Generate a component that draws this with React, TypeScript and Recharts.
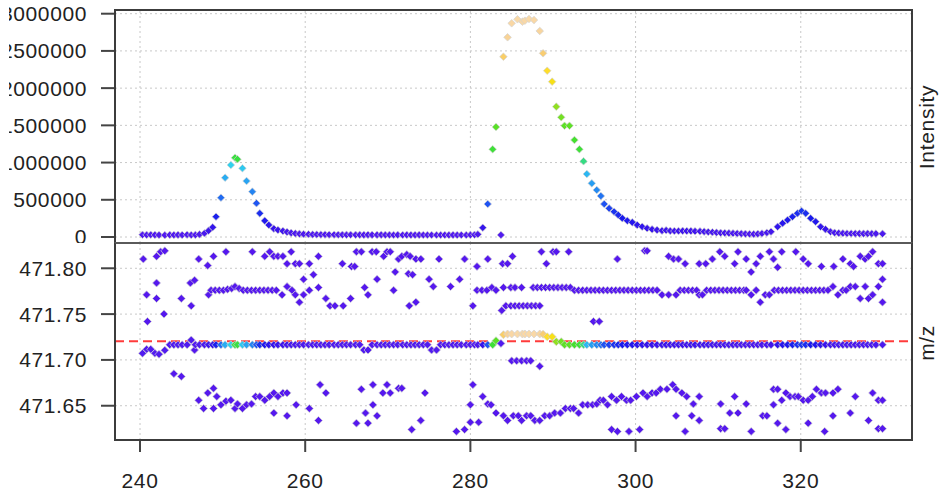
import { ScatterChart, Scatter, XAxis, YAxis, ReferenceLine } from 'recharts'

// main trace: [retention time, intensity, m/z of the main peak in that scan]
const mainTrace: [number, number, number][] = [
  [240.3, 30000, 471.7072], [240.8, 28000, 471.7116], [241.3, 30000, 471.7116], [241.8, 28000, 471.7072],
  [242.3, 27000, 471.7061], [243.0, 25000, 471.7105], [243.6, 28000, 471.7165], [244.1, 27000, 471.7165],
  [244.6, 28000, 471.7165], [245.1, 27000, 471.7165], [245.7, 30000, 471.7165], [246.2, 27000, 471.7217],
  [246.7, 28000, 471.7165], [247.2, 35000, 471.7165], [247.8, 50000, 471.7165], [248.3, 85000, 471.7165],
  [248.8, 130000, 471.7165], [249.2, 273000, 471.7165], [249.8, 528000, 471.7165], [250.3, 797000, 471.7165],
  [251.0, 967000, 471.7165], [251.5, 1065000, 471.7165], [251.8, 1045000, 471.7165], [252.4, 923000, 471.7165],
  [252.9, 752000, 471.7165], [253.6, 609000, 471.7165], [254.1, 453000, 471.7165], [254.5, 318000, 471.7165],
  [255.1, 219000, 471.7165], [255.6, 161000, 471.7165], [256.2, 112000, 471.7165], [256.7, 94000, 471.7165],
  [257.3, 80000, 471.7165], [257.8, 67000, 471.7165], [258.3, 55000, 471.7165], [258.8, 48000, 471.7165],
  [259.3, 42000, 471.7165], [259.8, 38000, 471.7165], [260.4, 36000, 471.7165], [260.9, 34000, 471.7165],
  [261.4, 33000, 471.7165], [261.9, 32000, 471.7165], [262.4, 32000, 471.7165], [262.9, 31000, 471.7165],
  [263.5, 31000, 471.7165], [264.0, 30000, 471.7165], [264.5, 30000, 471.7165], [265.0, 29000, 471.7165],
  [265.5, 30000, 471.7165], [266.1, 29000, 471.7165], [266.6, 29000, 471.7165], [267.1, 28000, 471.7108],
  [267.6, 29000, 471.7108], [268.1, 28000, 471.7165], [268.7, 28000, 471.7165], [269.2, 29000, 471.7165],
  [269.7, 28000, 471.7165], [270.2, 28000, 471.7165], [270.7, 27000, 471.7165], [271.2, 28000, 471.7165],
  [271.8, 27000, 471.7165], [272.3, 28000, 471.7165], [272.8, 27000, 471.7165], [273.3, 27000, 471.7165],
  [273.8, 28000, 471.7165], [274.3, 27000, 471.7165], [274.8, 27000, 471.7165], [275.3, 27000, 471.7108],
  [275.9, 26000, 471.7108], [276.4, 27000, 471.7165], [276.9, 27000, 471.7165], [277.4, 26000, 471.7165],
  [277.9, 27000, 471.7165], [278.4, 26000, 471.7165], [278.9, 27000, 471.7165], [279.5, 26000, 471.7165],
  [280.0, 28000, 471.7165], [280.5, 30000, 471.7165], [280.9, 36000, 471.7165], [281.5, 125000, 471.7165],
  [282.1, 443000, 471.7165], [282.7, 1178000, 471.7165], [283.1, 1478000, 471.721], [283.7, 27000, 471.718],
  [284.0, 2422000, 471.7275], [284.5, 2683000, 471.7283], [285.0, 2871000, 471.7283], [285.7, 2925000, 471.7283],
  [286.3, 2893000, 471.7283], [286.6, 2906000, 471.7283], [287.1, 2929000, 471.7283], [287.7, 2915000, 471.7283],
  [288.4, 2768000, 471.7283], [288.8, 2468000, 471.728], [289.3, 2234000, 471.7253], [289.9, 2087000, 471.7253],
  [290.4, 1751000, 471.7199], [291.0, 1608000, 471.7199], [291.4, 1495000, 471.7165], [292.0, 1495000, 471.7165],
  [292.6, 1303000, 471.7165], [293.2, 1178000, 471.7165], [293.7, 1017000, 471.7165], [294.1, 846000, 471.7165],
  [294.7, 721000, 471.7165], [295.3, 631000, 471.7165], [295.8, 551000, 471.7165], [296.2, 443000, 471.7165],
  [296.8, 385000, 471.7165], [297.4, 340000, 471.7165], [297.9, 296000, 471.7165], [298.4, 251000, 471.7165],
  [299.0, 219000, 471.7165], [299.6, 197000, 471.7165], [300.2, 161000, 471.7165], [300.8, 138000, 471.7165],
  [301.4, 117000, 471.7165], [302.0, 103000, 471.7165], [302.6, 94000, 471.7165], [303.2, 85000, 471.7165],
  [303.7, 90000, 471.7165], [304.2, 82000, 471.7165], [304.7, 80000, 471.7165], [305.2, 80000, 471.7165],
  [305.7, 82000, 471.7165], [306.2, 80000, 471.7165], [306.7, 80000, 471.7165], [307.2, 78000, 471.7165],
  [307.8, 76000, 471.7165], [308.3, 72000, 471.7165], [308.8, 68000, 471.7165], [309.3, 64000, 471.7165],
  [309.8, 60000, 471.7165], [310.3, 56000, 471.7165], [310.8, 54000, 471.7165], [311.3, 52000, 471.7165],
  [311.8, 50000, 471.7165], [312.3, 48000, 471.7165], [312.8, 45000, 471.7165], [313.3, 42000, 471.7165],
  [313.8, 40000, 471.7165], [314.3, 38000, 471.7165], [314.8, 42000, 471.7165], [315.3, 48000, 471.7165],
  [315.9, 58000, 471.7165], [316.4, 71000, 471.7165], [317.2, 138000, 471.7165], [317.8, 184000, 471.7165],
  [318.4, 228000, 471.7165], [319.0, 273000, 471.7165], [319.6, 318000, 471.7165], [320.1, 349000, 471.7165],
  [320.6, 318000, 471.7165], [321.2, 251000, 471.7165], [321.8, 206000, 471.7165], [322.4, 138000, 471.7165],
  [323.0, 103000, 471.7165], [323.6, 71000, 471.7165], [324.1, 58000, 471.7165], [324.6, 52000, 471.7165],
  [325.1, 50000, 471.7165], [325.6, 48000, 471.7165], [326.1, 47000, 471.7165], [326.6, 46000, 471.7165],
  [327.1, 46000, 471.7165], [327.6, 45000, 471.7165], [328.1, 46000, 471.7165], [328.6, 45000, 471.7165],
  [329.1, 45000, 471.7165], [329.9, 44000, 471.7165],
]

// other m/z hits in the window, [retention time, m/z]
const upperBand: [number, number][] = [
  [240.4, 471.810], [242.0, 471.813], [242.5, 471.818], [243.0, 471.819], [247.1, 471.810], [248.2, 471.803],
  [248.9, 471.813], [250.4, 471.818], [253.6, 471.818], [255.1, 471.813], [255.7, 471.818], [256.2, 471.813],
  [256.7, 471.813], [257.3, 471.813], [257.8, 471.805], [258.3, 471.818], [258.8, 471.805], [259.3, 471.805],
  [260.5, 471.805], [261.0, 471.793], [261.6, 471.813], [264.5, 471.805], [265.6, 471.802], [266.0, 471.802],
  [266.2, 471.818], [266.8, 471.818], [268.1, 471.818], [268.6, 471.818], [269.5, 471.813], [269.9, 471.818],
  [270.3, 471.818], [270.9, 471.796], [271.3, 471.810], [271.7, 471.813], [272.3, 471.815], [272.7, 471.813],
  [273.4, 471.810], [274.0, 471.810], [272.5, 471.794], [273.0, 471.793], [276.2, 471.810], [279.3, 471.810],
  [280.8, 471.802], [282.1, 471.810], [283.9, 471.805], [284.5, 471.805], [285.1, 471.813], [288.6, 471.818],
  [289.2, 471.805], [290.0, 471.818], [290.4, 471.818], [291.9, 471.818], [297.8, 471.810], [301.1, 471.819],
  [301.4, 471.819], [304.0, 471.813], [304.6, 471.810], [305.2, 471.810], [306.0, 471.805], [307.7, 471.805],
  [308.5, 471.805], [309.3, 471.810], [310.2, 471.818], [310.8, 471.813], [312.0, 471.805], [312.4, 471.818],
  [313.4, 471.810], [314.0, 471.796], [314.6, 471.805], [315.1, 471.813], [316.2, 471.818], [316.7, 471.810],
  [317.2, 471.801], [317.7, 471.818], [319.4, 471.818], [320.3, 471.810], [320.9, 471.805], [322.5, 471.802],
  [324.0, 471.802], [325.1, 471.810], [326.0, 471.805], [326.4, 471.802], [327.2, 471.813], [327.8, 471.810],
  [328.2, 471.813], [328.7, 471.818], [329.4, 471.805], [329.9, 471.805],
]

const middleBand: [number, number][] = [
  [240.8, 471.771], [240.9, 471.742], [242.0, 471.784], [242.0, 471.767], [242.9, 471.750], [245.0, 471.767],
  [246.1, 471.784], [246.6, 471.787], [246.2, 471.759], [248.3, 471.771], [248.6, 471.776], [249.1, 471.776],
  [249.6, 471.776], [250.1, 471.776], [250.6, 471.777], [251.1, 471.778], [251.5, 471.780], [252.0, 471.778],
  [252.5, 471.776], [253.0, 471.776], [253.5, 471.776], [254.0, 471.776], [254.5, 471.776], [255.0, 471.776],
  [255.5, 471.776], [256.0, 471.776], [256.5, 471.776], [257.2, 471.771], [257.8, 471.780], [258.4, 471.776],
  [258.8, 471.771], [259.3, 471.763], [259.8, 471.788], [259.8, 471.771], [260.5, 471.776], [261.6, 471.779],
  [262.5, 471.767], [263.0, 471.759], [263.6, 471.759], [264.6, 471.759], [265.5, 471.767], [267.2, 471.779],
  [267.6, 471.771], [268.7, 471.788], [270.7, 471.776], [272.6, 471.759], [273.4, 471.763], [275.0, 471.788],
  [275.5, 471.780], [277.6, 471.780], [278.7, 471.788], [280.3, 471.759], [280.8, 471.776], [281.4, 471.776],
  [282.0, 471.776], [282.6, 471.779], [283.1, 471.776], [284.0, 471.779], [284.9, 471.779], [285.4, 471.779],
  [286.2, 471.779], [287.6, 471.779], [288.1, 471.779], [288.6, 471.779], [289.1, 471.779], [289.6, 471.779],
  [290.1, 471.779], [290.6, 471.779], [291.1, 471.779], [291.6, 471.779], [292.1, 471.779], [292.6, 471.776],
  [293.1, 471.776], [293.6, 471.776], [294.1, 471.776], [294.6, 471.776], [295.1, 471.776], [295.6, 471.776],
  [296.1, 471.776], [296.6, 471.776], [297.1, 471.776], [297.6, 471.776], [298.1, 471.776], [298.6, 471.776],
  [299.1, 471.776], [299.6, 471.776], [300.1, 471.776], [300.6, 471.776], [301.1, 471.776], [301.6, 471.776],
  [302.1, 471.776], [302.6, 471.776], [303.2, 471.771], [304.0, 471.771], [304.9, 471.771], [283.8, 471.754],
  [284.3, 471.759], [284.9, 471.759], [285.4, 471.759], [285.9, 471.759], [286.4, 471.759], [286.9, 471.759],
  [287.4, 471.759], [287.9, 471.759], [288.4, 471.759], [294.9, 471.742], [295.6, 471.742], [305.4, 471.776],
  [305.9, 471.776], [306.4, 471.776], [306.9, 471.776], [307.4, 471.776], [307.7, 471.771], [308.1, 471.771],
  [308.6, 471.776], [309.1, 471.776], [309.6, 471.776], [310.1, 471.776], [310.6, 471.776], [311.1, 471.776],
  [311.6, 471.776], [312.1, 471.776], [312.6, 471.776], [313.1, 471.776], [313.4, 471.776], [314.0, 471.771],
  [314.6, 471.776], [315.1, 471.763], [315.7, 471.771], [316.2, 471.771], [316.8, 471.776], [317.3, 471.776],
  [317.8, 471.776], [318.3, 471.776], [318.8, 471.776], [319.3, 471.776], [319.8, 471.776], [320.3, 471.776],
  [320.8, 471.776], [321.3, 471.776], [321.8, 471.776], [322.3, 471.776], [322.8, 471.776], [323.3, 471.776],
  [323.9, 471.780], [324.5, 471.771], [325.1, 471.776], [325.5, 471.776], [326.0, 471.780], [326.6, 471.780],
  [327.2, 471.767], [327.8, 471.780], [328.2, 471.767], [328.7, 471.771], [329.4, 471.780], [329.9, 471.788],
  [329.9, 471.763], [246.6, 471.7108], [285.0, 471.699], [285.6, 471.699], [286.2, 471.699], [286.8, 471.699],
  [287.3, 471.699], [288.4, 471.693],
]

const lowerBand: [number, number][] = [
  [244.1, 471.685], [245.0, 471.682], [247.1, 471.656], [247.7, 471.647], [248.2, 471.664], [248.9, 471.669],
  [248.9, 471.647], [249.3, 471.660], [249.8, 471.651], [250.4, 471.655], [251.0, 471.656], [251.5, 471.647],
  [251.8, 471.652], [252.4, 471.647], [252.9, 471.651], [253.5, 471.652], [254.0, 471.660], [254.5, 471.660],
  [255.1, 471.656], [255.7, 471.660], [256.2, 471.664], [256.7, 471.660], [257.3, 471.664], [257.8, 471.664],
  [256.2, 471.642], [257.8, 471.639], [258.9, 471.651], [260.5, 471.647], [261.6, 471.634], [261.8, 471.673],
  [262.5, 471.664], [266.2, 471.631], [266.8, 471.668], [267.3, 471.642], [267.6, 471.631], [268.2, 471.673],
  [268.2, 471.651], [268.7, 471.639], [269.4, 471.664], [269.9, 471.673], [270.3, 471.664], [271.3, 471.669],
  [271.7, 471.669], [274.5, 471.664], [272.9, 471.624], [274.0, 471.634], [278.3, 471.622], [279.3, 471.624],
  [280.0, 471.632], [280.3, 471.673], [280.0, 471.651], [281.0, 471.632], [281.5, 471.660], [282.1, 471.652],
  [282.5, 471.651], [283.1, 471.642], [284.0, 471.639], [284.5, 471.634], [285.2, 471.639], [285.8, 471.639],
  [286.2, 471.634], [286.8, 471.639], [287.3, 471.639], [287.8, 471.634], [288.4, 471.634], [289.0, 471.639],
  [289.6, 471.639], [290.2, 471.642], [290.9, 471.642], [291.5, 471.647], [292.1, 471.647], [292.5, 471.647],
  [293.1, 471.642], [293.6, 471.651], [294.2, 471.651], [294.8, 471.651], [295.3, 471.652], [295.7, 471.656],
  [296.1, 471.656], [296.6, 471.651], [297.1, 471.660], [297.7, 471.656], [298.3, 471.660], [298.9, 471.656],
  [299.4, 471.656], [300.1, 471.660], [300.9, 471.664], [301.4, 471.660], [302.0, 471.664], [302.5, 471.664],
  [303.0, 471.668], [303.8, 471.668], [304.5, 471.673], [304.9, 471.668], [304.9, 471.639], [297.1, 471.624],
  [297.8, 471.622], [299.2, 471.622], [300.5, 471.624], [305.6, 471.664], [306.2, 471.660], [307.0, 471.652],
  [307.7, 471.660], [306.0, 471.622], [306.8, 471.639], [307.7, 471.634], [310.3, 471.652], [311.4, 471.642],
  [312.0, 471.660], [312.4, 471.642], [313.4, 471.652], [310.3, 471.625], [310.8, 471.625], [314.0, 471.622],
  [315.4, 471.639], [315.9, 471.639], [316.7, 471.668], [317.2, 471.668], [316.7, 471.651], [317.2, 471.631],
  [318.2, 471.624], [317.7, 471.656], [318.2, 471.664], [318.7, 471.660], [319.3, 471.660], [319.7, 471.660],
  [320.3, 471.656], [320.9, 471.656], [321.4, 471.660], [321.9, 471.668], [322.5, 471.664], [323.0, 471.664],
  [323.9, 471.664], [324.5, 471.668], [320.9, 471.631], [322.9, 471.622], [323.9, 471.639], [326.0, 471.642],
  [326.6, 471.660], [328.2, 471.634], [328.7, 471.664], [329.4, 471.656], [329.9, 471.656], [329.4, 471.625],
  [329.9, 471.625],
]

const timeTicks = [240, 260, 280, 300, 320]
const intensityTicks = [0, 500000, 1000000, 1500000, 2000000, 2500000, 3000000]
const mzTicks = [471.65, 471.7, 471.75, 471.8]
const targetMz = 471.7205

const timeDomain = [236.97, 333.47]
const intensityDomain = [-80600, 3049700]
const mzDomain = [471.6126, 471.8265]

const PURPLE = '#5518ee'
const INK = '#222'
const GRID = '#c8c8c8'

const colorStops: [number, string][] = [
  [0, '#5a1ef0'], [100000, '#3a14ec'], [250000, '#1a1aee'], [450000, '#1f55f2'],
  [650000, '#2590f2'], [850000, '#2cb8f2'], [980000, '#30d4ec'], [1040000, '#38e040'],
  [1400000, '#48e028'], [1750000, '#90e020'], [2000000, '#f0e010'], [2200000, '#ffe020'],
  [2450000, '#f8cc70'], [2700000, '#f8d49a'], [2950000, '#f9d9a8'],
]

const hex = (c: string) => [1, 3, 5].map(i => parseInt(c.slice(i, i + 2), 16))

function intensityColor(v: number) {
  if (v <= colorStops[0][0]) return colorStops[0][1]
  for (let i = 1; i < colorStops.length; i++) {
    const [v1, c1] = colorStops[i]
    if (v <= v1) {
      const [v0, c0] = colorStops[i - 1]
      const f = (v - v0) / (v1 - v0)
      const a = hex(c0), b = hex(c1)
      const m = a.map((x, k) => Math.round(x + (b[k] - x) * f))
      return `rgb(${m[0]},${m[1]},${m[2]})`
    }
  }
  return colorStops[colorStops.length - 1][1]
}

const topPoints = mainTrace.map(([t, v]) => ({ t, v, color: intensityColor(v) }))
const mainMzPoints = mainTrace.map(([t, v, mz]) => ({ t, v: mz, color: intensityColor(v) }))
const otherMzPoints = [...upperBand, ...middleBand, ...lowerBand].map(([t, mz]) => ({ t, v: mz, color: PURPLE }))

const diamond = (r: number) => (props: any) => {
  const { cx, cy, payload } = props
  if (cx == null || cy == null) return <g />
  return (
    <path
      d={`M${cx},${cy - r}L${cx + r},${cy}L${cx},${cy + r}L${cx - r},${cy}Z`}
      fill={payload?.color ?? PURPLE}
      stroke="#d2d2d2"
      strokeWidth={0.7}
    />
  )
}

const tickStyle = { fontSize: 21, fill: INK }
const tickLine = { stroke: '#444', strokeWidth: 2 }

export default function App() {
  return (
    <div style={{
      position: 'fixed', left: 0, top: 0, width: 940, height: 498, background: '#fff', overflow: 'hidden',
      fontFamily: '"Liberation Sans", Arial, sans-serif', letterSpacing: '0.6px',
    }}>
      <div style={{ position: 'absolute', left: 9, top: 0 }}>
        <ScatterChart width={931} height={243} margin={{ top: 10, right: 28, bottom: 0, left: 0 }}>
          <XAxis dataKey="t" type="number" hide domain={timeDomain} allowDataOverflow ticks={timeTicks} />
          <YAxis
            dataKey="v" type="number" domain={intensityDomain} allowDataOverflow ticks={intensityTicks} interval={0}
            width={106} tickSize={14} tickMargin={14} axisLine={false} tickLine={tickLine} tick={tickStyle}
            tickFormatter={(v: number) => String(v)}
          />
          {timeTicks.map(t => <ReferenceLine key={'x' + t} x={t} stroke={GRID} strokeDasharray="2 3" />)}
          {intensityTicks.map(v => <ReferenceLine key={'y' + v} y={v} stroke={GRID} strokeDasharray="2 3" />)}
          <Scatter data={topPoints} shape={diamond(3.8)} isAnimationActive={false} />
        </ScatterChart>
      </div>

      <div style={{ position: 'absolute', left: 9, top: 244 }}>
        <ScatterChart width={931} height={254} margin={{ top: 0, right: 28, bottom: 0, left: 0 }}>
          <XAxis
            dataKey="t" type="number" domain={timeDomain} allowDataOverflow ticks={timeTicks} interval={0}
            height={58} tickSize={12} tickMargin={21} axisLine={false} tickLine={tickLine} tick={tickStyle}
          />
          <YAxis
            dataKey="v" type="number" domain={mzDomain} allowDataOverflow ticks={mzTicks} interval={0}
            width={106} tickSize={14} tickMargin={14} axisLine={false} tickLine={tickLine} tick={tickStyle}
            tickFormatter={(v: number) => v.toFixed(2)}
          />
          {timeTicks.map(t => <ReferenceLine key={'x' + t} x={t} stroke={GRID} strokeDasharray="2 3" />)}
          {mzTicks.map(v => <ReferenceLine key={'y' + v} y={v} stroke={GRID} strokeDasharray="2 3" />)}
          <Scatter data={otherMzPoints} shape={diamond(4)} isAnimationActive={false} />
          <Scatter data={mainMzPoints} shape={diamond(4)} isAnimationActive={false} />
          <ReferenceLine y={targetMz} stroke="#ff3b3b" strokeWidth={2} strokeDasharray="9 5" />
        </ScatterChart>
      </div>

      <div style={{ position: 'absolute', left: 114, top: 9, width: 799, height: 235, border: '2px solid #3c3c3c', boxSizing: 'border-box', pointerEvents: 'none' }} />
      <div style={{ position: 'absolute', left: 114, top: 242, width: 799, height: 199, border: '2px solid #3c3c3c', borderTopColor: '#5a5a5a', boxSizing: 'border-box', pointerEvents: 'none' }} />

      <svg width={940} height={498} style={{ position: 'absolute', left: 0, top: 0, pointerEvents: 'none' }}>
        <text x={934} y={127} transform="rotate(-90 934 127)" textAnchor="middle" fontSize={21} fill={INK} style={{ letterSpacing: '0.7px' }}>Intensity</text>
        <text x={934} y={343} transform="rotate(-90 934 343)" textAnchor="middle" fontSize={21} fill={INK} style={{ letterSpacing: '0.5px' }}>m/z</text>
      </svg>
    </div>
  )
}
